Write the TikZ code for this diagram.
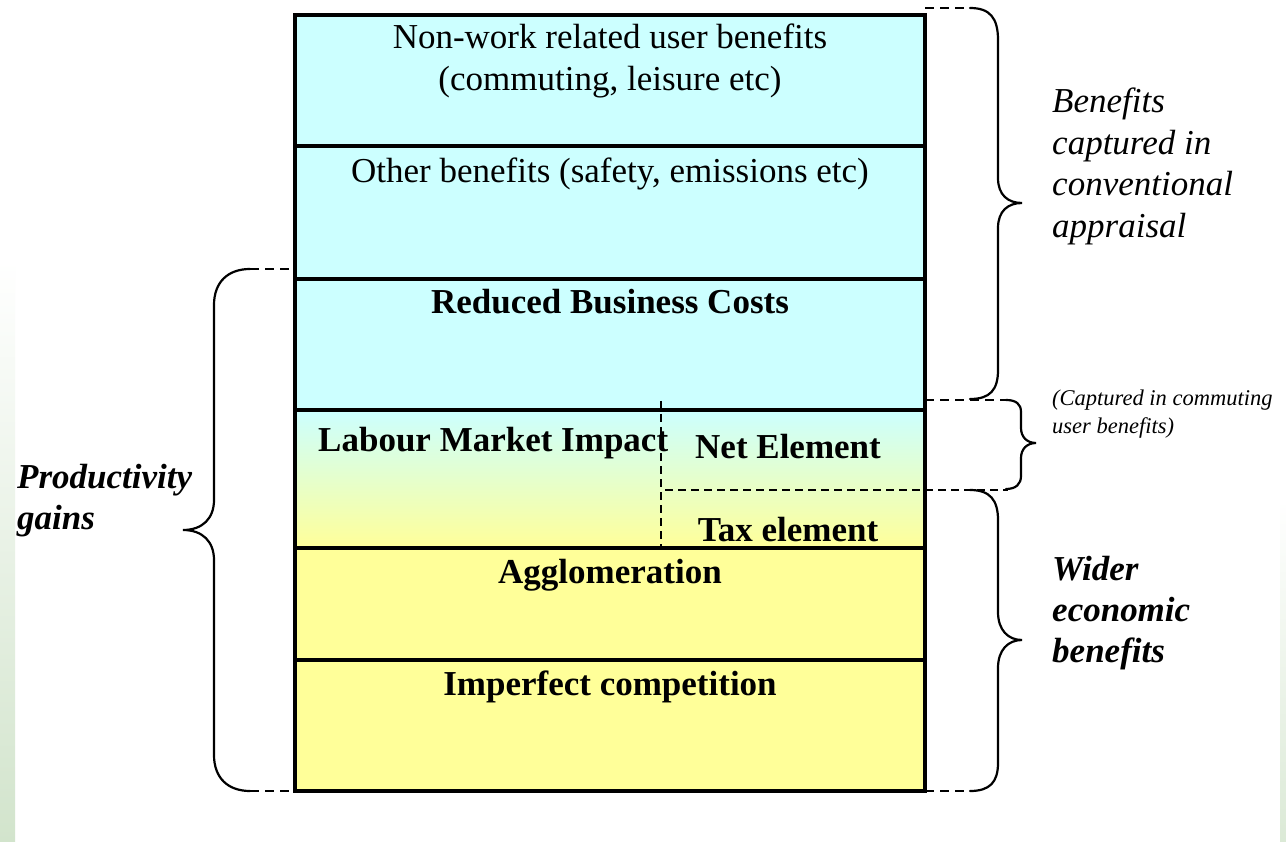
\documentclass[tikz,border=0pt]{standalone}
\usepackage{fontspec}
\setmainfont{Liberation Serif}
\definecolor{cy}{HTML}{CCFFFF}
\definecolor{yl}{HTML}{FFFF99}
\definecolor{gr}{HTML}{D2E4CC}
\begin{document}
\begin{tikzpicture}[x=1pt,y=-1pt,
  rowline/.style={draw=black,line width=3.2pt},
  dashline/.style={draw=black,line width=2pt,dash pattern=on 8pt off 5pt},
  bracedash/.style={draw=black,line width=1.8pt,dash pattern=on 9pt off 6pt},
  bracepath/.style={draw=black,line width=2.2pt,line cap=round},
  txt/.style={inner sep=0pt,anchor=base,font=\fontsize{35}{42}\selectfont},
  btxt/.style={inner sep=0pt,anchor=base,font=\fontsize{35}{42}\selectfont\bfseries},
  itxt/.style={inner sep=0pt,anchor=base west,font=\fontsize{35}{42}\selectfont\itshape},
  bitxt/.style={inner sep=0pt,anchor=base west,font=\fontsize{35}{42}\selectfont\bfseries\itshape},
  smtxt/.style={inner sep=0pt,anchor=base west,font=\fontsize{22.5}{27}\selectfont\itshape}
]
\useasboundingbox (0,0) rectangle (1286,842);
\fill[white] (0,0) rectangle (1286,842);
% background edge strips
\shade[top color=white,bottom color=gr] (0,260) rectangle (15,842);
\shade[top color=white,bottom color=gr!80] (1280,500) rectangle (1286,842);

% fills
\fill[cy] (295,15) rectangle (925,410);
\shade[top color=cy,bottom color=yl,middle color=yl!50!cy] (295,410) rectangle (925,548);
\fill[yl] (295,548) rectangle (925,791);

% coordinates
\coordinate (tl) at (295,15);
\coordinate (br) at (925,791);
\coordinate (vdTop) at (661,401);
\coordinate (vdBot) at (661,548);
\coordinate (hdL) at (665,490);
\coordinate (hdR) at (1008,490);

% dashed internal lines
\draw[dashline] (vdTop) -- (vdBot);
\draw[dashline] (hdL) -- (hdR);

% row lines and border
\foreach \yy in {146,279,410,548,660} \draw[rowline] (295,\yy) -- (925,\yy);
\draw[rowline] (tl) rectangle (br);

% texts in box
\node[txt] (t1a) at (610,49) {Non-work related user benefits};
\node[txt] (t1b) at (610,91) {(commuting, leisure etc)};
\node[txt] (t2) at (610,183) {Other benefits (safety, emissions etc)};
\node[btxt] (t3) at (610,314) {Reduced Business Costs};
\node[btxt,anchor=base west] (t4) at (318,451) {Labour Market Impact};
\node[btxt] (t5) at (788,458) {Net Element};
\node[btxt] (t6) at (788,541) {Tax element};
\node[btxt] (t7) at (610,583) {Agglomeration};
\node[btxt] (t8) at (610,695) {Imperfect competition};

% right top brace
\draw[bracedash] (925,8) -- (970,8);
\draw[bracepath] (970,8) .. controls (990,8) and (998,18) .. (998,40) -- (998,178)
  .. controls (998,195) and (1008,203) .. (1022,203)
  .. controls (1008,203) and (998,211) .. (998,228) -- (998,370)
  .. controls (998,390) and (990,399) .. (970,399);
% middle brace
\draw[bracedash] (925,400) -- (1006,400);
\draw[bracepath] (1006,400) .. controls (1016,400) and (1021,404) .. (1021,412) -- (1021,428)
  .. controls (1021,437) and (1027,443) .. (1036,443)
  .. controls (1027,443) and (1021,449) .. (1021,458) -- (1021,476)
  .. controls (1021,484) and (1016,489) .. (1006,489);
% right bottom brace
\draw[bracepath] (970,490) .. controls (990,490) and (998,500) .. (998,520) -- (998,612)
  .. controls (998,630) and (1008,640) .. (1022,640)
  .. controls (1008,640) and (998,650) .. (998,668) -- (998,763)
  .. controls (998,782) and (990,791) .. (970,791);
\draw[bracedash] (925,791) -- (970,791);
% left brace
\draw[bracedash] (250,269) -- (295,269);
\draw[bracedash] (250,791) -- (295,791);
\draw[bracepath] (250,269) .. controls (228,269) and (214,282) .. (214,305) -- (214,500)
  .. controls (214,518) and (203,530) .. (183,530)
  .. controls (203,530) and (214,542) .. (214,560) -- (214,755)
  .. controls (214,778) and (228,791) .. (250,791);

% side labels
\node[itxt] (b1) at (1052,113) {Benefits};
\node[itxt] (b2) at (1052,155) {captured in};
\node[itxt] (b3) at (1052,196) {conventional};
\node[itxt] (b4) at (1052,238) {appraisal};
\node[smtxt] (c1) at (1052,406) {(Captured in commuting};
\node[smtxt] (c2) at (1052,434) {user benefits)};
\node[bitxt] (w1) at (1052,580) {Wider};
\node[bitxt] (w2) at (1052,621) {economic};
\node[bitxt] (w3) at (1052,662) {benefits};
\node[bitxt] (p1) at (17,488) {Productivity};
\node[bitxt] (p2) at (17,529) {gains};
\end{tikzpicture}
\end{document}
